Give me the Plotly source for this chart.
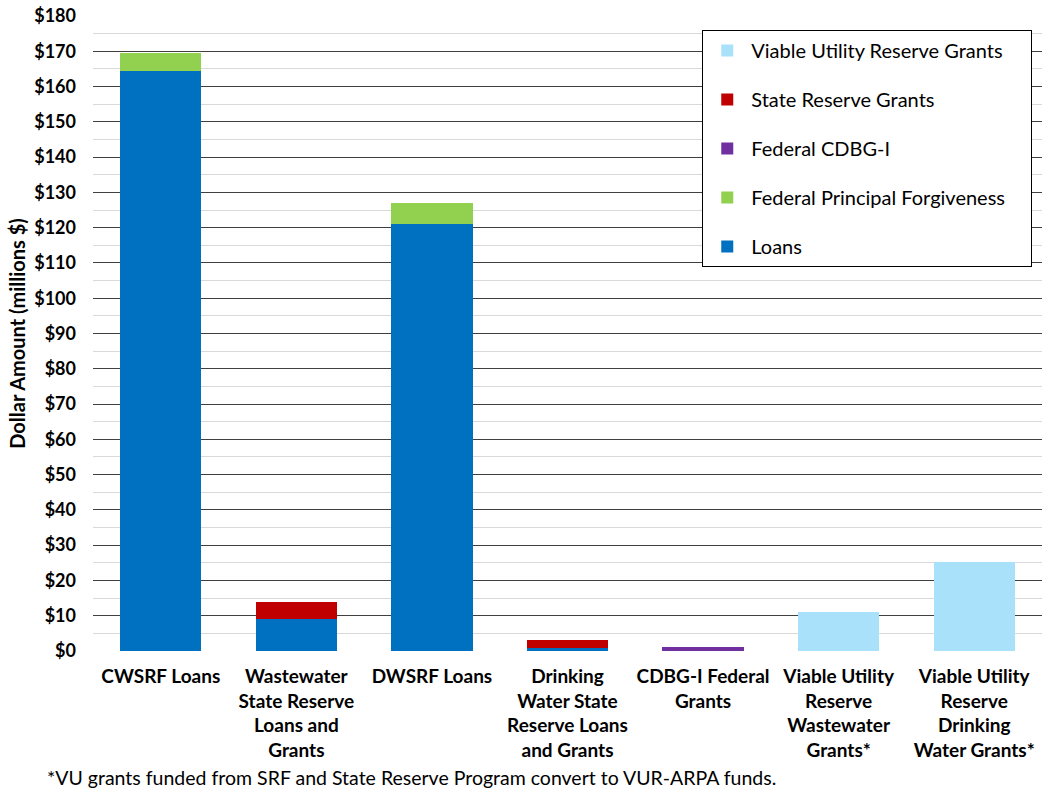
import plotly.graph_objects as go

categories = [
    "CWSRF Loans",
    "Wastewater<br>State Reserve<br>Loans and<br>Grants",
    "DWSRF Loans",
    "Drinking<br>Water State<br>Reserve Loans<br>and Grants",
    "CDBG-I Federal<br>Grants",
    "Viable Utility<br>Reserve<br>Wastewater<br>Grants*",
    "Viable Utility<br>Reserve<br>Drinking<br>Water Grants*",
]
loans = [164.4, 9.1, 121.1, 0.8, 0, 0, 0]
federal_pf = [5.2, 0, 6.0, 0, 0, 0, 0]
federal_cdbg = [0, 0, 0, 0, 1.0, 0, 0]
state_reserve = [0, 4.8, 0, 2.3, 0, 0, 0]
vur_grants = [0, 0, 0, 0, 0, 11.0, 25.2]

series = [
    ("Loans", loans, "#0070C0"),
    ("Federal Principal Forgiveness", federal_pf, "#92D050"),
    ("Federal CDBG-I", federal_cdbg, "#7030A0"),
    ("State Reserve Grants", state_reserve, "#C00000"),
    ("Viable Utility Reserve Grants", vur_grants, "#A9E1FA"),
]

x_idx = list(range(len(categories)))
fig = go.Figure()
n = len(series)
for i, (name, vals, col) in enumerate(series):
    label = name + ("\u00a0" * 4 if name == "Federal Principal Forgiveness" else "")
    fig.add_trace(go.Bar(
        x=x_idx, y=vals, name=label, marker=dict(color=col, line=dict(width=0)),
        legendgroup=f"g{i}", legendrank=(n - i) * 10, width=0.6,
    ))

font_main = "Lato, 'Open Sans', sans-serif"

fig.update_layout(
    barmode="stack",
    width=1042, height=790,
    margin=dict(l=93, r=0, t=16, b=139, autoexpand=False),
    paper_bgcolor="white", plot_bgcolor="white",
    font=dict(family=font_main, color="black"),
    showlegend=True,
    legend=dict(
        traceorder="grouped",
        x=0.642, y=0.978, xanchor="left", yanchor="top",
        bordercolor="black", borderwidth=1, bgcolor="white",
        font=dict(size=20, family=font_main),
        tracegroupgap=20, itemwidth=38,
    ),
    xaxis=dict(
        tickmode="array", tickvals=x_idx, ticktext=categories,
        range=[-0.5, 6.5], showgrid=False, zeroline=False,
        tickfont=dict(size=19, family=font_main, weight="bold"),
        ticks="", showline=False, tickangle=0, automargin=False,
        ticklabelstandoff=12,
    ),
    yaxis=dict(
        range=[0, 180], tickmode="linear", tick0=0, dtick=10,
        tickprefix="$", showgrid=True, gridcolor="#404040", gridwidth=1,
        minor=dict(dtick=5, showgrid=True, gridcolor="#D9D9D9", gridwidth=1),
        zeroline=False, showline=False, automargin=False,
        tickfont=dict(size=18, family=font_main, weight="bold"),
        title=dict(text="Dollar Amount (millions $)", font=dict(size=20, weight="bold"), standoff=3),
        ticklabelstandoff=16, ticklabeloverflow="allow",
    ),
    annotations=[dict(
        text="*VU grants funded from SRF and State Reserve Program convert to VUR-ARPA funds.",
        xref="paper", yref="paper", x=-0.0506, y=-0.178, xanchor="left", yanchor="top",
        showarrow=False, font=dict(size=19.5, family=font_main),
    )],
)

fig.write_html(
    "out.html",
    config={"displayModeBar": False},
    post_script="document.body.style.margin='0';document.body.style.overflow='hidden';",
)
